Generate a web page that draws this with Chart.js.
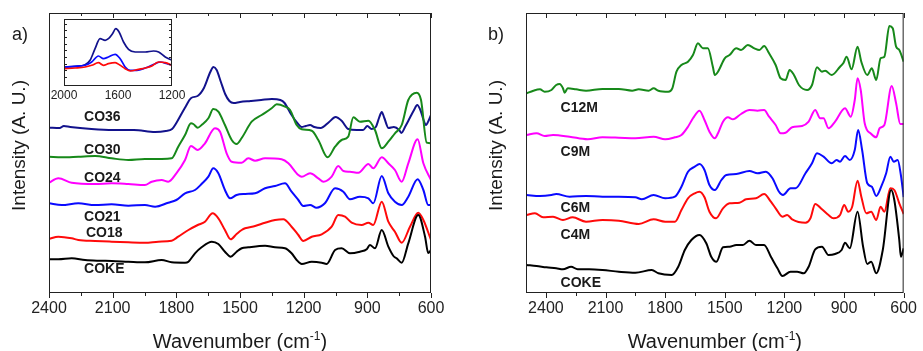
<!DOCTYPE html>
<html>
<head>
<meta charset="utf-8">
<script src="https://cdn.jsdelivr.net/npm/chart.js@4.4.1/dist/chart.umd.min.js"></script>
<style>
  html, body { margin: 0; padding: 0; background: #fff; }
  #wrap { position: relative; width: 923px; height: 351px; background: #fff; }
  canvas { position: absolute; }
</style>
</head>
<body>
<div id="wrap">
  <canvas id="panelA" width="460" height="351" style="left:0;top:0"></canvas>
  <canvas id="panelB" width="463" height="351" style="left:460px;top:0"></canvas>
  <canvas id="inset" width="150" height="96" style="left:44px;top:9px"></canvas>
</div>
<script>
const FONT = 'Arial, "Liberation Sans", sans-serif';

// Spectra, offset stacked: [wavenumber (cm-1), intensity (a.u.)]
// panel a) series
const cokeA = [[2400,33.7],[2356,33.7],[2293,34.7],[2230,33],[2168,32.3],[2105,32],[2026,31.3],[1948,30.7],[1869,33],[1822,30.7],[1759,30.3],[1743,31.3],[1712,39.7],[1681,45.7],[1633,51.3],[1602,49],[1571,41.3],[1544,36.3],[1516,41.3],[1492,44.7],[1461,45.7],[1382,47.3],[1335,45.7],[1288,44.7],[1257,39.7],[1233,33],[1209,29],[1162,31.3],[1115,30.3],[1092,29],[1052,43],[1021,44.7],[982,39.7],[935,41.3],[903,43.7],[888,48],[864,44.7],[832,63],[801,46.3],[777,37],[762,34.7],[738,30.3],[707,49.7],[660,78],[628,56.3],[613,40],[600,43]];
const co18 = [[2400,54],[2356,56.3],[2293,54.7],[2262,53],[2183,52],[2105,51.3],[2026,50.7],[1948,50.3],[1885,51.3],[1822,52.3],[1791,56.3],[1743,63],[1699,68],[1665,71.3],[1629,79.7],[1602,74.7],[1571,63],[1544,53.7],[1516,59],[1492,63],[1476,64.7],[1429,67],[1382,70.3],[1335,73],[1296,73.7],[1257,66.3],[1225,58],[1202,52],[1162,56.3],[1115,58.7],[1068,66.3],[1037,78],[1005,76.3],[974,70.3],[927,68],[895,70.3],[872,68],[832,91.3],[801,71.3],[770,61.3],[738,50.3],[699,66.3],[660,80.3],[636,73],[600,53]];
const co21 = [[2400,89.7],[2340,88],[2262,89.7],[2183,88],[2105,88.7],[2026,87.3],[1948,88],[1900,86.3],[1838,90.3],[1800,93],[1759,99.7],[1712,103],[1681,109],[1649,116.3],[1626,124.7],[1602,119.7],[1571,103],[1547,94.7],[1516,98],[1476,99],[1429,99.7],[1382,104.7],[1335,107],[1288,109.7],[1257,101.3],[1225,93],[1202,87],[1170,88],[1139,85.3],[1100,89.7],[1052,104.7],[1013,101.3],[982,93.7],[935,96.3],[895,94.7],[872,89.7],[832,117],[801,99.7],[770,91.3],[738,88],[707,96.3],[663,113.7],[636,103],[613,88],[600,88]];
const co24 = [[2400,110.3],[2356,114.7],[2293,110.3],[2183,109],[2105,109.7],[2026,109],[1948,108],[1916,111.3],[1869,113],[1838,111.3],[1800,119.7],[1759,133],[1731,147],[1699,143],[1665,149.7],[1618,164.7],[1594,161.3],[1563,139.7],[1539,131.3],[1492,130.3],[1461,134.7],[1429,132.3],[1382,134.7],[1304,133.7],[1272,129.7],[1225,118],[1209,116.3],[1170,119.7],[1131,114.7],[1107,111.3],[1068,116.3],[1037,127],[1013,122],[982,121.3],[942,120.3],[895,129],[872,124.7],[832,135.7],[801,129.7],[770,123],[738,111.3],[707,129.7],[663,153.7],[636,129.7],[600,113]];
const co30 = [[2400,136.3],[2340,135.7],[2262,136.3],[2183,137],[2105,134.7],[2026,133],[1948,134],[1869,134],[1822,134.7],[1791,146.3],[1759,158],[1731,169.7],[1720,169],[1699,165.3],[1681,168],[1649,174.7],[1626,184],[1602,181.3],[1571,168],[1539,153],[1516,149],[1492,155],[1445,171.3],[1398,178],[1351,184.7],[1327,188.7],[1288,186.3],[1264,183],[1233,168],[1209,163.7],[1162,162.3],[1131,153],[1087,135.7],[1052,146.3],[1021,153],[990,156.3],[966,175.7],[935,171.3],[895,172.3],[864,163],[832,144.7],[801,151.3],[770,159.7],[738,168],[707,193],[667,200.3],[647,193],[620,150.3],[600,149.7]];
const co36 = [[2400,165.3],[2350,165],[2330,167],[2300,166],[2200,164],[2100,163],[2000,163],[1900,161],[1850,162],[1820,164],[1800,170],[1760,185],[1730,195],[1700,197],[1670,205],[1640,221],[1625,226],[1610,223],[1590,211],[1570,199],[1550,192],[1530,190],[1500,191],[1450,192],[1400,193],[1350,194],[1310,193],[1290,190],[1260,179],[1230,170],[1210,166],[1190,167],[1170,168],[1150,166],[1120,165],[1080,171],[1050,176],[1020,172],[990,164],[950,163],[920,163],[900,167],[880,164],[860,166],[845,175],[832,181],[820,175],[800,165],[775,166],[750,163],[740,160],[720,167],[700,175],[680,183],[665,188],[650,183],[635,173],[624,168],[610,173],[600,178]];

// inset of panel a), 2000-1200 cm-1
const inset36 = [[2000,19],[1918,19.7],[1844,21.3],[1807,25.7],[1770,37.3],[1733,47.3],[1695,45.7],[1671,47.3],[1641,52.3],[1616,57.3],[1592,54],[1559,44],[1522,36.7],[1473,34],[1398,34],[1337,35],[1299,34],[1250,29],[1200,25.7]];
const inset21 = [[2000,19],[1918,19.7],[1844,20.7],[1795,24],[1745,30],[1708,27.3],[1671,29],[1621,31.7],[1584,27.3],[1547,19],[1510,15.7],[1460,15.7],[1398,18],[1324,22.3],[1287,24],[1237,22.3],[1200,20.7]];
const inset18 = [[2000,17.3],[1918,18],[1844,19],[1795,20.7],[1745,23.3],[1708,20.7],[1671,22.3],[1621,23.3],[1584,20.7],[1547,17.3],[1510,15],[1448,16.7],[1398,18],[1349,20],[1299,24],[1250,23.3],[1200,20.7]];

// panel b) series
const cokeB = [[2497,28],[2447,27],[2397,25.7],[2348,24.7],[2314,23.7],[2273,26.3],[2240,23.7],[2182,23.7],[2115,23],[2033,21.3],[1950,20.3],[1867,23],[1834,19.7],[1767,18],[1734,26.3],[1701,43],[1668,53],[1627,58],[1593,49.7],[1568,36.3],[1542,31.3],[1509,45.7],[1476,46.3],[1442,48],[1409,48],[1376,52.3],[1343,48],[1302,48],[1268,36.3],[1235,24.7],[1210,17],[1169,21.3],[1136,21.3],[1103,19.7],[1078,26.3],[1045,43.7],[1011,46.3],[978,38],[945,39],[912,43],[895,50.3],[871,44.7],[832,81.3],[804,46.3],[783,29],[763,31.3],[738,19.7],[705,43],[663,103],[647,93],[622,53],[614,36.3],[600,44.7]];
const c4m = [[2497,78],[2455,79.7],[2414,75.7],[2364,76.3],[2314,73],[2265,75.7],[2198,71.3],[2115,73],[2033,72.3],[1933,69],[1858,73.7],[1800,71.3],[1751,71.3],[1718,83],[1685,94.7],[1651,99.7],[1627,101.3],[1602,95.7],[1577,81.3],[1544,74.7],[1509,84.7],[1476,89.7],[1426,90.3],[1393,93.7],[1343,94.7],[1302,99],[1268,91.3],[1244,84.7],[1210,76.3],[1186,78],[1161,73.7],[1094,70.3],[1069,74.7],[1045,89],[1011,83.7],[978,78],[953,74.7],[920,78],[899,88],[879,81.3],[859,86.3],[832,112.3],[813,96.3],[788,79.7],[763,81.3],[738,73],[716,86.3],[697,81.3],[667,104.7],[647,103],[622,89.7],[600,79]];
const c6m = [[2497,98],[2430,97],[2372,98],[2348,99],[2281,96.3],[2198,97],[2115,96.3],[2033,96.3],[1950,95.7],[1917,93.7],[1858,98],[1800,94.7],[1751,96.3],[1718,106.3],[1685,121.3],[1651,126.3],[1627,129],[1602,123],[1577,108],[1550,103],[1517,113],[1492,118],[1442,119],[1376,122],[1335,119.7],[1293,121.3],[1260,114.7],[1227,101.3],[1207,98],[1169,104.7],[1144,104.7],[1094,119.7],[1061,129.7],[1036,139.7],[1003,136.3],[962,129.7],[937,133],[920,131.3],[895,137],[871,133],[846,143],[829,163],[809,143],[783,109.7],[760,106.3],[738,97],[713,106.3],[688,119.7],[667,136.3],[650,131.3],[630,133],[614,118],[600,96]];
const c9m = [[2497,158],[2447,159.7],[2406,157],[2364,158],[2281,156.3],[2190,153.7],[2115,155.7],[2033,155.3],[1950,154.7],[1858,156.3],[1800,153.7],[1751,155.7],[1718,158],[1685,166.3],[1660,174.7],[1627,182.3],[1602,173],[1577,161.3],[1550,154.7],[1534,159.7],[1509,171.3],[1484,175.7],[1459,173.7],[1418,179],[1376,183],[1335,182.3],[1302,183],[1277,176.3],[1244,168],[1219,159.7],[1194,160.3],[1161,165.7],[1111,167],[1078,171.3],[1045,183],[1020,174.7],[1003,174.7],[978,164.7],[945,171.3],[895,184.7],[866,176.3],[846,193],[832,214.7],[816,203],[796,169.7],[763,159],[738,155.7],[721,164.7],[697,168],[660,207],[638,189.7],[617,169],[600,169]];
const c12m = [[2497,199.7],[2463,202.3],[2430,203.7],[2406,201.3],[2372,203],[2348,208],[2331,209],[2314,204.7],[2306,200.3],[2290,204.7],[2248,203.7],[2198,202.3],[2115,204],[2033,204],[1966,202.3],[1933,203.7],[1883,202.3],[1858,204.7],[1834,202.3],[1784,201.3],[1764,204.7],[1743,221.3],[1718,228],[1685,231.3],[1660,238],[1635,249.7],[1610,244.7],[1585,244.7],[1560,226.3],[1550,218],[1534,221.3],[1500,234.7],[1476,238],[1442,244.7],[1418,243],[1384,248],[1351,244.7],[1326,243],[1302,247],[1277,239.7],[1244,228],[1219,214.7],[1194,213],[1174,223],[1152,218],[1127,208],[1086,203],[1061,208],[1036,225.7],[1011,221.3],[995,222.3],[962,218],[920,226.3],[904,229.7],[887,236.3],[862,223.7],[832,246.3],[813,231.3],[783,218],[760,224.7],[738,213],[716,234.7],[697,236.3],[672,267],[655,264.7],[638,246.3],[622,243],[600,231.3]];

const ticksA = [2400, 2250, 2100, 1950, 1800, 1650, 1500, 1350, 1200, 1050, 900, 750, 600];
const ticksB = ticksA.slice();
const ticksInset = [2000, 1600, 1200];

const NAVY = '#12128c', GREEN = '#17891a', MAGENTA = '#ff00ff', BLUE = '#0a0aff', RED = '#ff0a0a', BLACK = '#000000';

// frame, tick marks, panel tag, axis titles and sample names
const panelDecor = {
  id: 'panelDecor',
  afterDatasetsDraw(chart, args, opts) {
    const { ctx, chartArea: a, scales: { x, y } } = chart;
    ctx.save();
    ctx.strokeStyle = '#222';
    ctx.lineWidth = 1;
    ctx.strokeRect(a.left + 0.5, a.top + 0.5, a.right - a.left - 1, a.bottom - a.top - 1);

    ctx.beginPath();
    (opts.ticks || []).forEach(v => {
      const px = Math.round(x.getPixelForValue(v)) + 0.5;
      const len = v % 300 === 0 ? 5 : 3;
      ctx.moveTo(px, a.bottom);
      ctx.lineTo(px, a.bottom + len);
      ctx.moveTo(px, a.top);
      ctx.lineTo(px, a.top + len);
    });
    (opts.sideTicks || []).forEach(v => {
      const py = Math.round(y.getPixelForValue(v)) + 0.5;
      ctx.moveTo(a.left, py);
      ctx.lineTo(a.left + 3, py);
      ctx.moveTo(a.right, py);
      ctx.lineTo(a.right - 3, py);
    });
    ctx.stroke();

    ctx.fillStyle = '#1a1a1a';
    if (opts.tag) {
      ctx.font = '18px ' + FONT;
      ctx.textAlign = 'left';
      ctx.textBaseline = 'alphabetic';
      ctx.fillText(opts.tag, opts.tagX, 40);
    }

    ctx.font = 'bold 14px ' + FONT;
    ctx.textAlign = 'left';
    ctx.textBaseline = 'alphabetic';
    (opts.labels || []).forEach(l => {
      ctx.fillText(l.text, x.getPixelForValue(l.wn), y.getPixelForValue(l.at));
    });

    if (opts.titles) {
      // y title
      ctx.save();
      ctx.font = '19px ' + FONT;
      ctx.textAlign = 'center';
      ctx.textBaseline = 'middle';
      ctx.translate(opts.yTitleX, 145.5);
      ctx.rotate(-Math.PI / 2);
      ctx.fillText('Intensity (A. U.)', 0, 0);
      ctx.restore();

      // x title with superscript
      const cx = (a.left + a.right) / 2;
      ctx.font = '20px ' + FONT;
      const w1 = ctx.measureText('Wavenumber (cm').width;
      const w3 = ctx.measureText(')').width;
      ctx.font = '12px ' + FONT;
      const w2 = ctx.measureText('-1').width;
      let tx = cx - (w1 + w2 + w3) / 2;
      ctx.textAlign = 'left';
      ctx.textBaseline = 'alphabetic';
      ctx.font = '20px ' + FONT;
      ctx.fillText('Wavenumber (cm', tx, 348);
      tx += w1;
      ctx.font = '12px ' + FONT;
      ctx.fillText('-1', tx, 340);
      tx += w2;
      ctx.font = '20px ' + FONT;
      ctx.fillText(')', tx, 348);
    }
    ctx.restore();
  }
};

function lineSet(points, color, width) {
  return {
    data: points.map(([wn, v]) => ({ x: wn, y: v })),
    borderColor: color,
    borderWidth: width,
    pointRadius: 0,
    fill: false,
    cubicInterpolationMode: 'monotone'
  };
}

function makeChart(id, datasets, cfg) {
  return new Chart(document.getElementById(id), {
    type: 'line',
    data: { datasets },
    plugins: [panelDecor],
    options: {
      responsive: false,
      animation: false,
      devicePixelRatio: 1,
      layout: { padding: { left: 0, right: cfg.padRight, top: cfg.padTop, bottom: 0 } },
      plugins: {
        legend: { display: false },
        tooltip: { enabled: false },
        panelDecor: cfg.decor
      },
      scales: {
        x: {
          type: 'linear',
          reverse: true,
          min: cfg.xMin,
          max: cfg.xMax,
          afterBuildTicks: s => { s.ticks = cfg.ticks.map(v => ({ value: v })); },
          afterFit: s => { s.height = cfg.xHeight; },
          grid: { display: false, drawTicks: false },
          border: { display: false },
          ticks: {
            autoSkip: false,
            maxRotation: 0,
            padding: cfg.tickPad,
            color: '#222',
            font: { family: FONT, size: cfg.tickSize },
            callback: v => (v % 300 === 0 || cfg.xMax === 2000 ? v : '')
          }
        },
        y: {
          min: 0,
          max: cfg.yMax,
          afterFit: s => { s.width = cfg.yWidth; },
          ticks: { display: false },
          grid: { display: false, drawTicks: false },
          border: { display: false }
        }
      }
    }
  });
}

makeChart('panelA', [
  lineSet(cokeA, BLACK, 2),
  lineSet(co18, RED, 2),
  lineSet(co21, BLUE, 2),
  lineSet(co24, MAGENTA, 2),
  lineSet(co30, GREEN, 2),
  lineSet(co36, NAVY, 2)
], {
  xMin: 600, xMax: 2400, yMax: 280, ticks: ticksA,
  padRight: 29, padTop: 13, xHeight: 58, yWidth: 49, tickPad: 6, tickSize: 16,
  decor: {
    ticks: ticksA, tag: 'a)', tagX: 12, titles: true, yTitleX: 20,
    labels: [
      { text: 'CO36', wn: 2235, at: 172 },
      { text: 'CO30', wn: 2235, at: 139 },
      { text: 'CO24', wn: 2235, at: 111 },
      { text: 'CO21', wn: 2235, at: 72 },
      { text: 'CO18', wn: 2226, at: 56 },
      { text: 'COKE', wn: 2235, at: 20 }
    ]
  }
});

makeChart('panelB', [
  lineSet(cokeB, BLACK, 2),
  lineSet(c4m, RED, 2),
  lineSet(c6m, BLUE, 2),
  lineSet(c9m, MAGENTA, 2),
  lineSet(c12m, GREEN, 2)
], {
  xMin: 600, xMax: 2500, yMax: 280, ticks: ticksB,
  padRight: 15, padTop: 13, xHeight: 58, yWidth: 66, tickPad: 6, tickSize: 16,
  decor: {
    ticks: ticksB, tag: 'b)', tagX: 28, titles: true, yTitleX: 37,
    labels: [
      { text: 'C12M', wn: 2326, at: 181 },
      { text: 'C9M', wn: 2326, at: 137 },
      { text: 'C6M', wn: 2326, at: 81 },
      { text: 'C4M', wn: 2326, at: 54 },
      { text: 'COKE', wn: 2326, at: 6 }
    ]
  }
});

makeChart('inset', [
  lineSet(inset18, RED, 1.7),
  lineSet(inset21, BLUE, 1.7),
  lineSet(inset36, NAVY, 1.7)
], {
  xMin: 1200, xMax: 2000, yMax: 67, ticks: ticksInset,
  padRight: 22, padTop: 10, xHeight: 19, yWidth: 20, tickPad: 2, tickSize: 12,
  decor: {
    ticks: [], sideTicks: [9, 15.7, 22.3, 29, 35.7, 42.3, 49, 55.7, 62.3]
  }
});
</script>
</body>
</html>
